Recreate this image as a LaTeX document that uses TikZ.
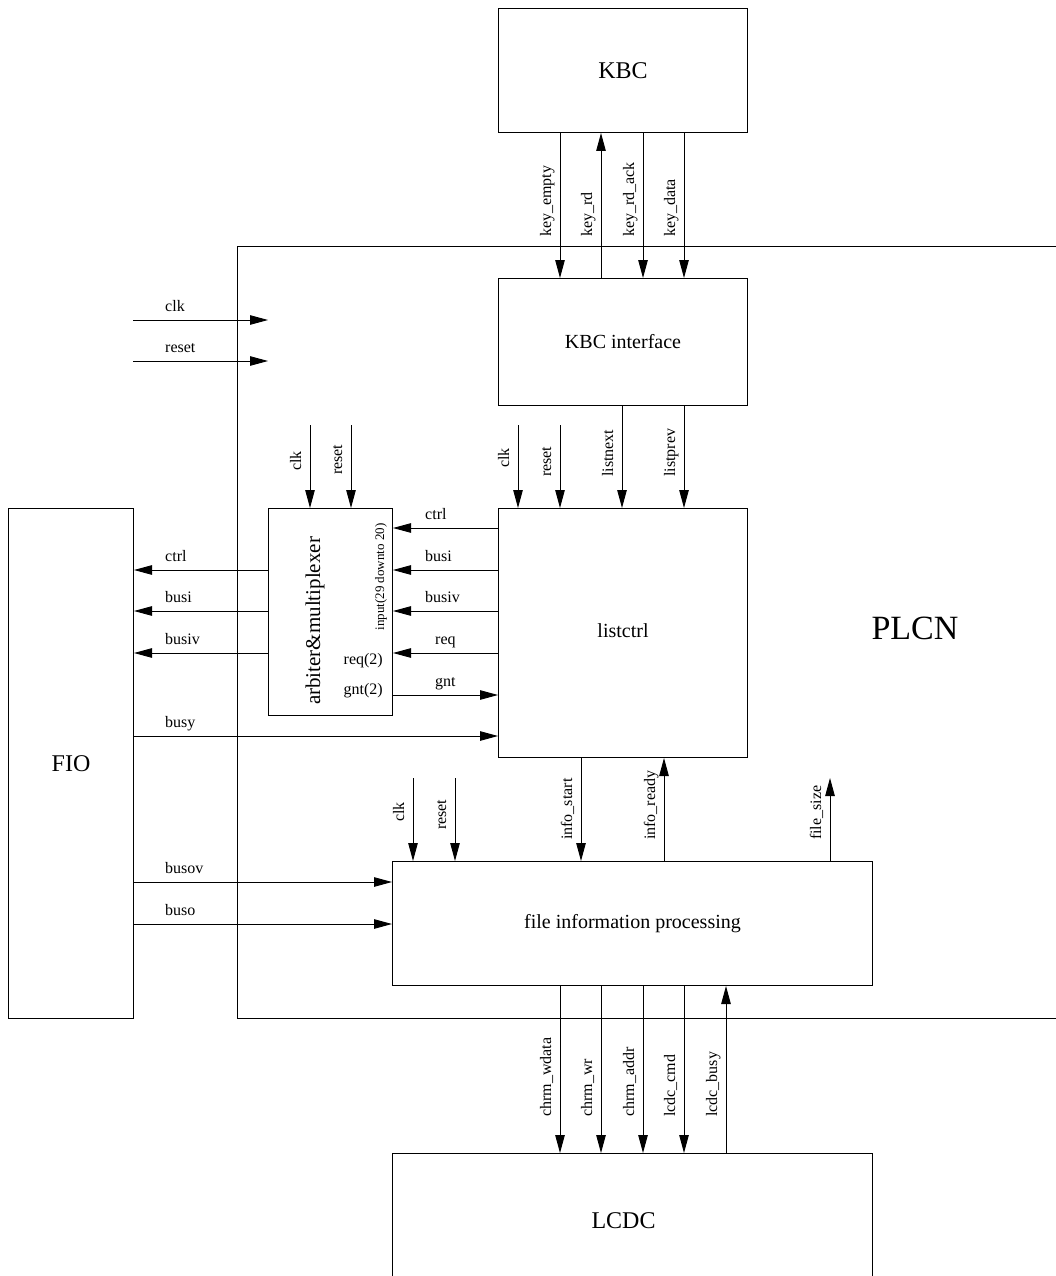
\documentclass[tikz,border=0pt]{standalone}
\usepackage{fontspec}
\setmainfont{Liberation Serif}
\usetikzlibrary{arrows.meta}
\begin{document}
\begin{tikzpicture}[x=1pt,y=-1pt,
  box/.style={draw, line width=1pt, inner sep=0pt, anchor=north west, font=\fontsize{20}{24}\selectfont},
  bigbox/.style={box, font=\fontsize{24}{28}\selectfont},
  sig/.style={line width=0.9pt, -{Triangle[length=18pt,width=9.5pt]}},
  lab/.style={anchor=base west, inner sep=0pt, font=\fontsize{16}{19}\selectfont},
  vlab/.style={lab, rotate=90}]
\useasboundingbox (0,0) rectangle (1056,1276);
\clip (0,0) rectangle (1056,1276);

% PLCN outer box
\node[box, minimum width=900pt, minimum height=772pt] (plcn) at (237,246) {};
\node[font=\fontsize{34}{40}\selectfont, inner sep=0pt] (plcnlab) at (915,628) {PLCN};

% blocks
\node[bigbox, minimum width=249pt, minimum height=124pt] (kbc) at (498,8) {KBC};
\node[box, minimum width=249pt, minimum height=127pt] (kbci) at (498,278) {\raisebox{-4pt}{KBC interface}};
\node[box, minimum width=249pt, minimum height=249pt] (lc) at (498,508) {\raisebox{5pt}{listctrl}};
\node[box, minimum width=124pt, minimum height=207pt] (arb) at (268,508) {};
\node[bigbox, minimum width=125pt, minimum height=510pt] (fio) at (8,508) {FIO};
\node[box, minimum width=480pt, minimum height=124pt] (fip) at (392,861) {\raisebox{-4pt}{file information processing}};
\node[bigbox, minimum width=480pt, minimum height=134pt] (lcdc) at (392,1153) {\hspace*{-18pt}LCDC};

% arbiter inner texts
\node[rotate=90, inner sep=0pt, font=\fontsize{21}{25}\selectfont] (arbtxt) at (315,621) {arbiter\&multiplexer};
\node[rotate=90, inner sep=0pt, font=\fontsize{13}{15}\selectfont] (arbin) at (381,577) {input(29 downto 20)};
\node[anchor=east, inner sep=0pt, font=\fontsize{16}{19}\selectfont] (arbreq) at (383,661) {req(2)};
\node[anchor=east, inner sep=0pt, font=\fontsize{16}{19}\selectfont] (arbgnt) at (383,691) {gnt(2)};

% KBC <-> KBC interface
\draw[sig] (kbc.south -| 560,0) -- (kbci.north -| 560,0);
\draw[sig] (kbci.north -| 601,0) -- (kbc.south -| 601,0);
\draw[sig] (kbc.south -| 643,0) -- (kbci.north -| 643,0);
\draw[sig] (kbc.south -| 684,0) -- (kbci.north -| 684,0);
\node[vlab] (lkempty) at (551,237) {key\_empty};
\node[vlab] (lkrd) at (592,237) {key\_rd};
\node[vlab] (lkrdack) at (634,237) {key\_rd\_ack};
\node[vlab] (lkdata) at (675,237) {key\_data};

% global clk / reset
\coordinate (gclkin) at (133,320);
\coordinate (gclkout) at (268,320);
\coordinate (grstin) at (133,361);
\coordinate (grstout) at (268,361);
\draw[sig] (gclkin) -- (gclkout);
\draw[sig] (grstin) -- (grstout);
\node[lab] (lgclk) at (165,311) {clk};
\node[lab] (lgrst) at (165,352) {reset};

% arbiter clk / reset
\coordinate (aclk) at (310,425);
\coordinate (arst) at (351,425);
\draw[sig] (aclk) -- (arb.north -| aclk);
\draw[sig] (arst) -- (arb.north -| arst);
\node[vlab] (laclk) at (301,471) {clk};
\node[vlab] (larst) at (342,475) {reset};

% listctrl top inputs
\coordinate (lclk) at (518,425);
\coordinate (lrst) at (560,425);
\draw[sig] (lclk) -- (lc.north -| lclk);
\draw[sig] (lrst) -- (lc.north -| lrst);
\draw[sig] (kbci.south -| 622,0) -- (lc.north -| 622,0);
\draw[sig] (kbci.south -| 684,0) -- (lc.north -| 684,0);
\node[vlab] (llclk) at (509,468) {clk};
\node[vlab] (llrst) at (551,477) {reset};
\node[vlab] (llnext) at (613,477) {listnext};
\node[vlab] (llprev) at (675,477) {listprev};

% listctrl <-> arbiter
\draw[sig] (lc.west |- 0,528) -- (arb.east |- 0,528);
\draw[sig] (lc.west |- 0,570) -- (arb.east |- 0,570);
\draw[sig] (lc.west |- 0,611) -- (arb.east |- 0,611);
\draw[sig] (lc.west |- 0,653) -- (arb.east |- 0,653);
\draw[sig] (arb.east |- 0,695) -- (lc.west |- 0,695);
\node[lab] (lactrl) at (425,519) {ctrl};
\node[lab] (labusi) at (425,561) {busi};
\node[lab] (labusiv) at (425,602) {busiv};
\node[lab] (lareq) at (435,644) {req};
\node[lab] (lagnt) at (435,686) {gnt};

% arbiter -> FIO
\draw[sig] (arb.west |- 0,570) -- (fio.east |- 0,570);
\draw[sig] (arb.west |- 0,611) -- (fio.east |- 0,611);
\draw[sig] (arb.west |- 0,653) -- (fio.east |- 0,653);
\node[lab] (lfctrl) at (165,561) {ctrl};
\node[lab] (lfbusi) at (165,602) {busi};
\node[lab] (lfbusiv) at (165,644) {busiv};

% FIO -> listctrl / fip
\draw[sig] (fio.east |- 0,736) -- (lc.west |- 0,736);
\draw[sig] (fio.east |- 0,882) -- (fip.west |- 0,882);
\draw[sig] (fio.east |- 0,924) -- (fip.west |- 0,924);
\node[lab] (lfbusy) at (165,727) {busy};
\node[lab] (lfbusov) at (165,873) {busov};
\node[lab] (lfbuso) at (165,915) {buso};

% fip top
\coordinate (fclk) at (413,778);
\coordinate (frst) at (455,778);
\coordinate (fsize) at (830,778);
\draw[sig] (fclk) -- (fip.north -| fclk);
\draw[sig] (frst) -- (fip.north -| frst);
\draw[sig] (lc.south -| 581,0) -- (fip.north -| 581,0);
\draw[sig] (fip.north -| 664,0) -- (lc.south -| 664,0);
\draw[sig] (fip.north -| fsize) -- (fsize);
\node[vlab] (lfclk) at (404,822) {clk};
\node[vlab] (lfrst) at (446,830) {reset};
\node[vlab] (lfstart) at (572,840) {info\_start};
\node[vlab] (lfready) at (655,840) {info\_ready};
\node[vlab] (lfsize) at (821,840) {file\_size};

% fip <-> LCDC
\draw[sig] (fip.south -| 560,0) -- (lcdc.north -| 560,0);
\draw[sig] (fip.south -| 601,0) -- (lcdc.north -| 601,0);
\draw[sig] (fip.south -| 643,0) -- (lcdc.north -| 643,0);
\draw[sig] (fip.south -| 684,0) -- (lcdc.north -| 684,0);
\draw[sig] (lcdc.north -| 726,0) -- (fip.south -| 726,0);
\node[vlab] (lcwdata) at (551,1117) {chrm\_wdata};
\node[vlab] (lcwr) at (592,1117) {chrm\_wr};
\node[vlab] (lcaddr) at (634,1117) {chrm\_addr};
\node[vlab] (lccmd) at (675,1117) {lcdc\_cmd};
\node[vlab] (lcbusy) at (717,1117) {lcdc\_busy};
\end{tikzpicture}
\end{document}
